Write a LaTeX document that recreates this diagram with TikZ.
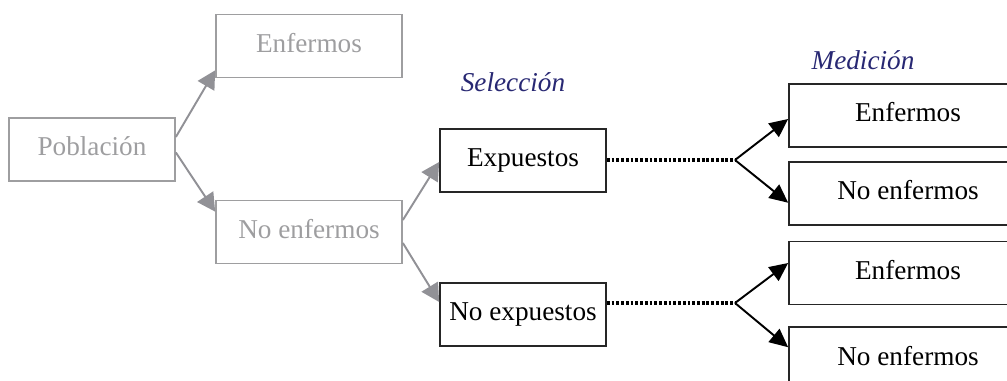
\documentclass[tikz,border=0pt]{standalone}
\usepackage{fontspec}
\setmainfont{Liberation Serif}
\usepackage{tikz}
\usetikzlibrary{positioning,arrows.meta}
\definecolor{grisclaro}{RGB}{158,158,160}
\definecolor{grisflecha}{RGB}{145,145,150}
\definecolor{azulosc}{RGB}{40,40,115}

\begin{document}
\begin{tikzpicture}[x=0.02cm,y=0.02cm]
                \tikzstyle{caja} = [rectangle, minimum height=1.26cm, text height=0.36cm, text depth=0.1cm, text centered, line width=1pt, font=\fontsize{15.5}{18}\selectfont]
                \tikzstyle{cajagris} = [caja, minimum width=3.72cm, draw=grisclaro, text=grisclaro]
                \tikzstyle{cajanegra} = [caja, minimum width=3.32cm, draw=black!85]
                \tikzstyle{cajafin} = [caja, minimum width=4.76cm, draw=black!85]
                \tikzstyle{titulo} = [text=azulosc, font=\fontsize{15.5}{18}\selectfont\itshape]
                \tikzstyle{flechagris} = [grisflecha, line width=1.1pt, -{Triangle[length=0.36cm,width=0.38cm]}]
                \tikzstyle{flecha} = [black, line width=1.1pt, -{Triangle[length=0.37cm,width=0.34cm]}]
                \tikzstyle{punteada} = [black, line width=1.8pt, dash pattern=on 1.6pt off 1.1pt]
                \useasboundingbox (0,0) rectangle (1007,381);
                \clip (0,0) rectangle (1007,381);

                \node (pob) [cajagris, minimum width=3.32cm] at (92,231.5) {Población};
                \node (enf) [cajagris] at (309,335) {Enfermos};
                \node (noenf) [cajagris] at (309,149) {No enfermos};
                \node (exp) [cajanegra] at (523,220.5) {Expuestos};
                \node (noexp) [cajanegra] at (523,66.5) {No expuestos};
                \node (enf1) [cajafin] at (908,265.5) {Enfermos};
                \node (noenf1) [cajafin, below=0.26cm of enf1] {No enfermos};
                \node (enf2) [cajafin] at (908,108) {Enfermos};
                \node (noenf2) [cajafin, below=0.42cm of enf2] {No enfermos};
                \node (sel) [titulo] at (513,299) {Selección};
                \node (med) [titulo] at (863,321) {Medición};
                \coordinate (rama1) at (735,221);
                \coordinate (rama2) at (735,78);

                \draw [flechagris] ([yshift=0.25cm]pob.east) -- ([yshift=0.16cm]enf.south west);
                \draw [flechagris] ([yshift=-0.06cm]pob.east) -- ([yshift=-0.24cm]noenf.north west);
                \draw [flechagris] ([yshift=0.24cm]noenf.east) -- ([yshift=-0.03cm]exp.west);
                \draw [flechagris] ([yshift=-0.22cm]noenf.east) -- ([yshift=0.25cm]noexp.west);

                \draw [punteada] (exp.east |- rama1) -- (rama1);
                \draw [punteada] (noexp.east |- rama2) -- (rama2);
                \draw [flecha] (rama1) -- ([yshift=-0.07cm]enf1.west);
                \draw [flecha] (rama1) -- ([yshift=-0.19cm]noenf1.west);
                \draw [flecha] (rama2) -- ([yshift=0.2cm]enf2.west);
                \draw [flecha] (rama2) -- ([yshift=0.23cm]noenf2.west);

            \end{tikzpicture}
\end{document}
